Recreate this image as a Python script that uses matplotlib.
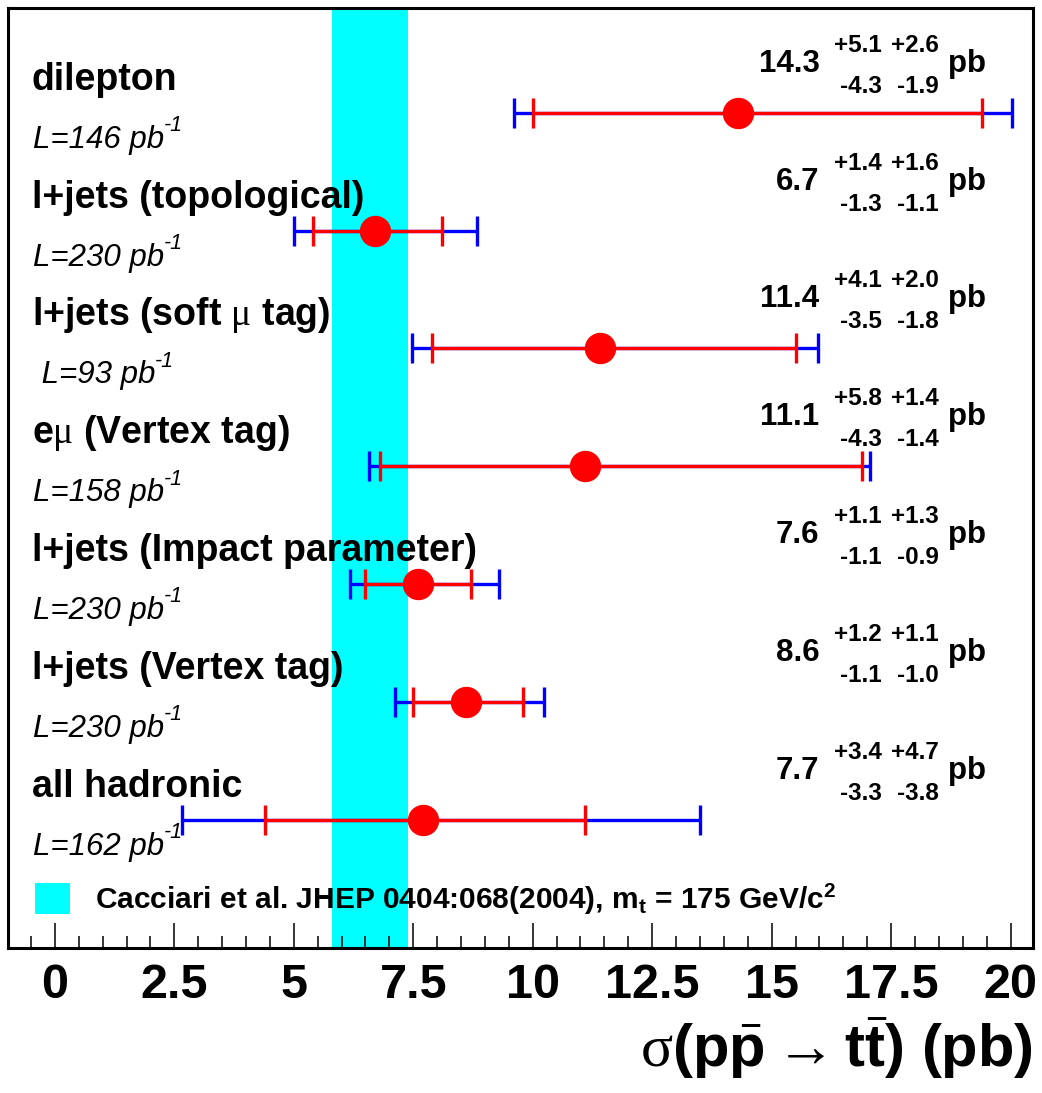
import numpy as np
import matplotlib
matplotlib.use("Agg")
import matplotlib.pyplot as plt
from matplotlib.patches import Patch
from matplotlib.ticker import MultipleLocator, FuncFormatter

plt.rcParams['font.family'] = ['Liberation Sans', 'DejaVu Sans']
plt.rcParams['mathtext.fontset'] = 'custom'
plt.rcParams['mathtext.rm'] = 'Liberation Serif'
plt.rcParams['mathtext.bf'] = 'Liberation Sans:bold'
plt.rcParams['mathtext.sf'] = 'Liberation Sans:italic'
plt.rcParams['mathtext.it'] = 'Liberation Sans:italic'

# measurements, top to bottom
names = ["dilepton", "l+jets (topological)", r"l+jets (soft $\mathrm{\mu}$ tag)",
         r"e$\mathrm{\mu}$ (Vertex tag)", "l+jets (Impact parameter)",
         "l+jets (Vertex tag)", "all hadronic"]
lumi = ["L=146 pb", "L=230 pb", " L=93 pb", "L=158 pb", "L=230 pb", "L=230 pb", "L=162 pb"]
xsec = np.array([14.3, 6.7, 11.4, 11.1, 7.6, 8.6, 7.7])
stat_up = np.array([5.1, 1.4, 4.1, 5.8, 1.1, 1.2, 3.4])
stat_dn = np.array([4.3, 1.3, 3.5, 4.3, 1.1, 1.1, 3.3])
syst_up = np.array([2.6, 1.6, 2.0, 1.4, 1.3, 1.1, 4.7])
syst_dn = np.array([1.9, 1.1, 1.8, 1.4, 0.9, 1.0, 3.8])

# theory band (Cacciari et al., mt = 175)
theory_lo, theory_hi = 5.8, 7.4
theory_label = r"Cacciari et al. JHEP 0404:068(2004), m$_{\mathbf{t}}$ = 175 GeV/c$^{\mathbf{2}}$"

tot_up = np.sqrt(stat_up**2 + syst_up**2)
tot_dn = np.sqrt(stat_dn**2 + syst_dn**2)
rows = np.arange(len(xsec))

fig = plt.figure(figsize=(10.42, 10.93), dpi=100)
ax = fig.add_axes([8/1042, 145/1093, 1025/1042, 940/1093])

ax.axvspan(theory_lo, theory_hi, color='cyan', lw=0, zorder=0)

ax.errorbar(xsec, rows, xerr=[tot_dn, tot_up], fmt='none', ecolor='blue',
            elinewidth=2.4, capsize=10.8, capthick=2.4, zorder=3)
ax.errorbar(xsec, rows, xerr=[stat_dn, stat_up], fmt='o', color='red', ms=21.6,
            ecolor='red', elinewidth=2.4, capsize=10.8, capthick=2.4, zorder=4)

for i in rows:
    ax.text(-0.48, i - 0.195, names[i], fontsize=27, fontweight='bold', va='baseline')
    lt = ax.text(-0.46, i + 0.297, lumi[i], fontsize=22.5, style='italic', va='baseline')
    ax.annotate("-1", xy=(1.0, 0.62), xycoords=lt, fontsize=15.5, style='italic',
                ha='left', va='bottom')
    ax.text(16.0, i - 0.348, f"{xsec[i]:.1f}", fontsize=22.5, fontweight='bold',
            ha='right', va='baseline')
    ax.text(17.31, i - 0.518, f"+{stat_up[i]:.1f}", fontsize=17.5, fontweight='bold',
            ha='right', va='baseline')
    ax.text(18.5, i - 0.518, f"+{syst_up[i]:.1f}", fontsize=17.5, fontweight='bold',
            ha='right', va='baseline')
    ax.text(17.31, i - 0.17, f"-{stat_dn[i]:.1f}", fontsize=17.5, fontweight='bold',
            ha='right', va='baseline')
    ax.text(18.5, i - 0.17, f"-{syst_dn[i]:.1f}", fontsize=17.5, fontweight='bold',
            ha='right', va='baseline')
    ax.text(18.69, i - 0.348, "pb", fontsize=22.5, fontweight='bold', va='baseline')

ax.legend(handles=[Patch(color='cyan', lw=0)], labels=[theory_label],
          loc='lower left', bbox_to_anchor=(0.0263, 0.033), frameon=False,
          prop={'size': 21.5, 'weight': 'bold'}, handlelength=1.17, handleheight=1.22,
          handletextpad=0.84, borderpad=0, borderaxespad=0)

ax.set_xlim(-0.98, 20.47)
ax.set_ylim(7.09, -0.89)
ax.xaxis.set_major_locator(MultipleLocator(2.5))
ax.xaxis.set_minor_locator(MultipleLocator(0.5))
ax.xaxis.set_major_formatter(FuncFormatter(lambda v, p: f"{v:g}"))
ax.tick_params(axis='x', which='both', direction='in', top=False, width=1.1,
               labelsize=35, pad=11)
ax.tick_params(axis='x', which='major', length=18)
ax.tick_params(axis='x', which='minor', length=8.6)
for lab in ax.get_xticklabels():
    lab.set_fontweight('bold')
ax.set_yticks([])
for s in ax.spines.values():
    s.set_linewidth(2.2)

ax.set_xlabel(r"$\mathrm{\sigma}\mathbf{(p}\bar{\mathbf{p}}\mathrm{\rightarrow}\mathbf{t}\bar{\mathbf{t}}\mathbf{)}$ (pb)",
              fontsize=43, fontweight='bold', loc='right', labelpad=5)

fig.savefig("out.png", dpi=100)
